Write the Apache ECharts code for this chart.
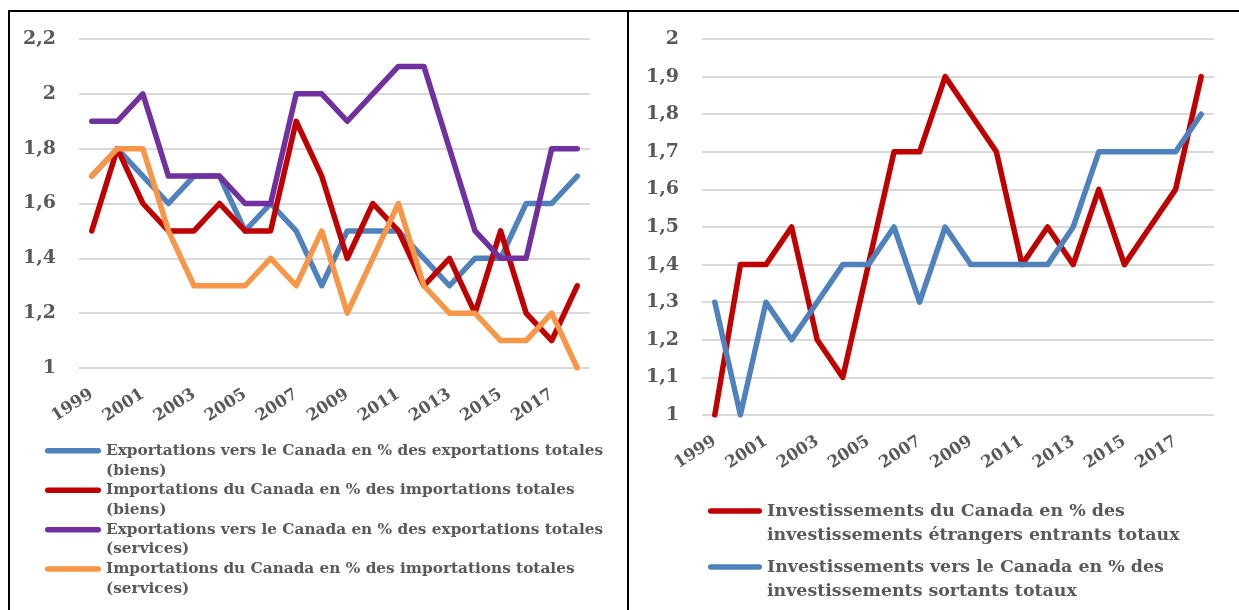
<!DOCTYPE html>
<html>
<head>
<meta charset="utf-8">
<script src="https://cdn.jsdelivr.net/npm/echarts@6/dist/echarts.min.js"></script>
<style>
  html, body { margin: 0; padding: 0; background: #fff; }
  #main { width: 1239px; height: 610px; }
</style>
</head>
<body>
<div id="main"></div>
<script>
const years = ["1999", "2000", "2001", "2002", "2003", "2004", "2005", "2006", "2007", "2008",
  "2009", "2010", "2011", "2012", "2013", "2014", "2015", "2016", "2017", "2018"];

// left chart : commerce
const exportsGoods = [1.7, 1.8, 1.7, 1.6, 1.7, 1.7, 1.5, 1.6, 1.5, 1.3, 1.5, 1.5, 1.5, 1.4, 1.3, 1.4, 1.4, 1.6, 1.6, 1.7];
const importsGoods = [1.5, 1.8, 1.6, 1.5, 1.5, 1.6, 1.5, 1.5, 1.9, 1.7, 1.4, 1.6, 1.5, 1.3, 1.4, 1.2, 1.5, 1.2, 1.1, 1.3];
const exportsServices = [1.9, 1.9, 2.0, 1.7, 1.7, 1.7, 1.6, 1.6, 2.0, 2.0, 1.9, 2.0, 2.1, 2.1, 1.8, 1.5, 1.4, 1.4, 1.8, 1.8];
const importsServices = [1.7, 1.8, 1.8, 1.5, 1.3, 1.3, 1.3, 1.4, 1.3, 1.5, 1.2, 1.4, 1.6, 1.3, 1.2, 1.2, 1.1, 1.1, 1.2, 1.0];

// right chart : investissements
const investIn = [1.0, 1.4, 1.4, 1.5, 1.2, 1.1, 1.4, 1.7, 1.7, 1.9, 1.8, 1.7, 1.4, 1.5, 1.4, 1.6, 1.4, 1.5, 1.6, 1.9];
const investOut = [1.3, 1.0, 1.3, 1.2, 1.3, 1.4, 1.4, 1.5, 1.3, 1.5, 1.4, 1.4, 1.4, 1.4, 1.5, 1.7, 1.7, 1.7, 1.7, 1.8];

const leftNames = [
  "Exportations vers le Canada en % des exportations totales (biens)",
  "Importations du Canada en % des importations totales (biens)",
  "Exportations vers le Canada en % des exportations totales (services)",
  "Importations du Canada en % des importations totales (services)"
];
const leftLabels = [
  "Exportations vers le Canada en % des exportations totales\n(biens)",
  "Importations du Canada en % des importations totales\n(biens)",
  "Exportations vers le Canada en % des exportations totales\n(services)",
  "Importations du Canada en % des importations totales\n(services)"
];
const rightNames = [
  "Investissements du Canada en % des investissements étrangers entrants totaux",
  "Investissements vers le Canada en % des investissements sortants totaux"
];
const rightLabels = [
  "Investissements du Canada en % des\ninvestissements étrangers entrants totaux",
  "Investissements vers le Canada en % des\ninvestissements sortants totaux"
];

const BLUE = "#4f81bd", RED = "#c00000", PURPLE = "#7030a0", ORANGE = "#f79646";
const FONT = "DejaVu Serif";
const GREY = "#595959";

const myChart = echarts.init(document.getElementById("main"));

function decimal(v) {
  return String(Math.round(v * 10) / 10).replace(".", ",");
}

function lineSeries(name, data, color, idx) {
  return {
    name: name,
    type: "line",
    xAxisIndex: idx,
    yAxisIndex: idx,
    data: data,
    symbol: "none",
    color: color,
    itemStyle: { color: color },
    lineStyle: { color: color, width: 5.5, cap: "round", join: "round" },
    animation: false
  };
}

function xAxisFor(idx) {
  return {
    type: "category",
    gridIndex: idx,
    data: years,
    axisLine: { show: false },
    axisTick: { show: false },
    axisLabel: {
      interval: 1,
      rotate: 33,
      margin: 25,
      color: GREY,
      fontFamily: FONT,
      fontWeight: "bold",
      fontSize: 16.5
    }
  };
}

function yAxisFor(idx, max, interval) {
  return {
    type: "value",
    gridIndex: idx,
    min: 1,
    max: max,
    interval: interval,
    axisLine: { show: false },
    axisTick: { show: false },
    splitLine: { lineStyle: { color: "#d9d9d9", width: 2 } },
    axisLabel: {
      margin: 23,
      color: GREY,
      fontFamily: FONT,
      fontWeight: "bold",
      fontSize: 19,
      formatter: decimal
    }
  };
}

// bar drawn on the first text line; tiny corner squares keep the box size
const leftIcon = "path://M2.75,7.1h50.5a2.75,2.75 0 0 1 0,5.5h-50.5a2.75,2.75 0 0 1 0,-5.5z" +
  " M0,0h0.01v0.01h-0.01z M55.99,39.39h0.01v0.01h-0.01z";
const rightIcon = "path://M2.75,9.25h48.5a2.75,2.75 0 0 1 0,5.5h-48.5a2.75,2.75 0 0 1 0,-5.5z" +
  " M0,0h0.01v0.01h-0.01z M53.99,47.99h0.01v0.01h-0.01z";

const leftColors = [BLUE, RED, PURPLE, ORANGE];
const rightColors = [RED, BLUE];

var option = {
  backgroundColor: "#fff",
  animation: false,
  grid: [
    { left: 79, width: 511, top: 39, height: 329 },
    { left: 702, width: 512, top: 39, height: 376 }
  ],
  xAxis: [xAxisFor(0), xAxisFor(1)],
  yAxis: [yAxisFor(0, 2.2, 0.2), yAxisFor(1, 2, 0.1)],
  legend: [
    {
      orient: "vertical",
      left: 45,
      top: 441,
      padding: 0,
      itemGap: 0,
      itemWidth: 56,
      itemHeight: 39.4,
      icon: leftIcon,
      data: leftNames.map((n, i) => ({ name: n, itemStyle: { color: leftColors[i] } })),
      formatter: (name) => leftLabels[leftNames.indexOf(name)],
      textStyle: {
        color: GREY,
        fontFamily: FONT,
        fontWeight: "bold",
        fontSize: 15.3,
        lineHeight: 19.7
      }
    },
    {
      orient: "vertical",
      left: 708,
      top: 499,
      padding: 0,
      itemGap: 8,
      itemWidth: 54,
      itemHeight: 48,
      icon: rightIcon,
      data: rightNames.map((n, i) => ({ name: n, itemStyle: { color: rightColors[i] } })),
      formatter: (name) => rightLabels[rightNames.indexOf(name)],
      textStyle: {
        color: GREY,
        fontFamily: FONT,
        fontWeight: "bold",
        fontSize: 17.4,
        lineHeight: 24
      }
    }
  ],
  graphic: [
    { type: "rect", shape: { x: 9, y: 11, width: 619, height: 640 },
      style: { fill: "none", stroke: "#000", lineWidth: 2 }, silent: true },
    { type: "rect", shape: { x: 628, y: 11, width: 640, height: 640 },
      style: { fill: "none", stroke: "#000", lineWidth: 2 }, silent: true }
  ],
  series: [
    lineSeries(leftNames[0], exportsGoods, BLUE, 0),
    lineSeries(leftNames[1], importsGoods, RED, 0),
    lineSeries(leftNames[2], exportsServices, PURPLE, 0),
    lineSeries(leftNames[3], importsServices, ORANGE, 0),
    lineSeries(rightNames[0], investIn, RED, 1),
    lineSeries(rightNames[1], investOut, BLUE, 1)
  ]
};

myChart.setOption(option);
</script>
</body>
</html>
